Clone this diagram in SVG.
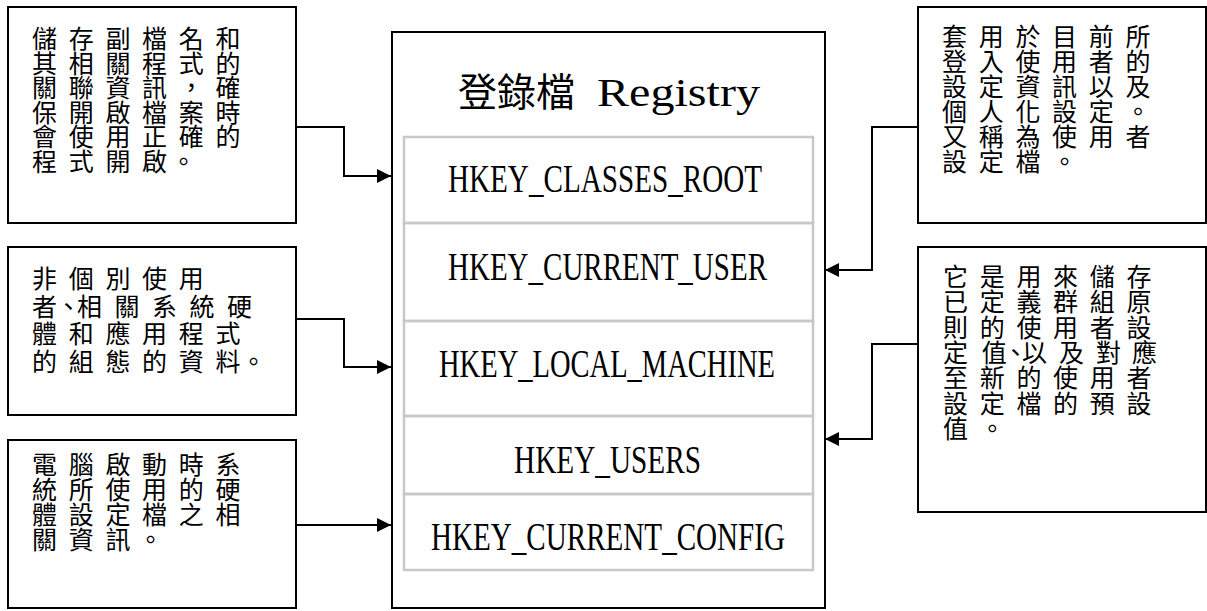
<svg xmlns="http://www.w3.org/2000/svg" width="1207" height="611" viewBox="0 0 1207 611">
  <style>
    .box { fill: #ffffff; stroke: #000000; stroke-width: 2; }
    .row { fill: none; stroke: #c8c8c8; stroke-width: 2.5; }
    .note { font-family: "Noto Sans CJK TC", "Noto Sans CJK SC", sans-serif; font-size: 25px; letter-spacing: 11.7px; fill: #000000; }
    .title { font-family: "Liberation Serif", "Noto Sans CJK TC", serif; font-size: 39px; fill: #000000; }
    .key { font-family: "Liberation Serif", serif; font-size: 39px; fill: #000000; }
    .wire { fill: none; stroke: #000000; stroke-width: 2; marker-end: url(#arrow); }
  </style>
  <defs>
    <marker id="arrow" markerUnits="userSpaceOnUse" markerWidth="15" markerHeight="14" refX="14" refY="7" orient="auto">
      <path d="M0,0 L14,7 L0,14 Z" fill="#000000"/>
    </marker>
  </defs>

  <rect width="1207" height="611" fill="#ffffff"/>

  <!-- Registry container with hive rows -->
  <g id="registry">
    <rect class="box" x="392" y="32" width="433" height="576"/>
    <text class="title" y="106"><tspan x="458" font-family="Noto Sans CJK TC, sans-serif">登錄檔 </tspan><tspan x="597" textLength="163" lengthAdjust="spacingAndGlyphs">Registry</tspan></text>
  </g>
  <g id="hkcr">
    <rect class="row" x="404" y="137" width="409" height="86"/>
    <text class="key" x="605" y="192" text-anchor="middle" textLength="314" lengthAdjust="spacingAndGlyphs">HKEY_CLASSES_ROOT</text>
  </g>
  <g id="hkcu">
    <rect class="row" x="404" y="223" width="409" height="98"/>
    <text class="key" x="607.5" y="280" text-anchor="middle" textLength="319" lengthAdjust="spacingAndGlyphs">HKEY_CURRENT_USER</text>
  </g>
  <g id="hklm">
    <rect class="row" x="404" y="321" width="409" height="95"/>
    <text class="key" x="607" y="377" text-anchor="middle" textLength="336" lengthAdjust="spacingAndGlyphs">HKEY_LOCAL_MACHINE</text>
  </g>
  <g id="hku">
    <rect class="row" x="404" y="416" width="409" height="78"/>
    <text class="key" x="607.5" y="473" text-anchor="middle" textLength="187" lengthAdjust="spacingAndGlyphs">HKEY_USERS</text>
  </g>
  <g id="hkcc">
    <rect class="row" x="404" y="494" width="409" height="76"/>
    <text class="key" x="608" y="550" text-anchor="middle" textLength="354" lengthAdjust="spacingAndGlyphs">HKEY_CURRENT_CONFIG</text>
  </g>

  <!-- Description boxes, left side -->
  <g id="note-classes-root">
    <rect class="box" x="8" y="7" width="288" height="216"/>
    <text class="note"><tspan x="32" y="48">儲存副檔名和</tspan><tspan x="32" y="72.6">其相關程式的</tspan><tspan x="32" y="97.2">關聯資訊，確</tspan><tspan x="32" y="121.8">保開啟檔案時</tspan><tspan x="32" y="146.4">會使用正確的</tspan><tspan x="32 68.7 105.4 142.1 171" y="171">程式開啟。</tspan></text>
  </g>
  <g id="note-local-machine">
    <rect class="box" x="8" y="247" width="288" height="168"/>
    <text class="note"><tspan x="32" y="288">非個別使用</tspan><tspan x="32 56 77 114.5 152 189.5 227" y="315.7">者、相關系統硬</tspan><tspan x="32" y="343.4">體和應用程式</tspan><tspan x="32 68.7 105.4 142.1 178.8 215.5 241" y="371">的組態的資料。</tspan></text>
  </g>
  <g id="note-current-config">
    <rect class="box" x="8" y="440" width="288" height="168"/>
    <text class="note"><tspan x="32" y="474">電腦啟動時系</tspan><tspan x="32" y="499">統所使用的硬</tspan><tspan x="32" y="524">體設定檔之相</tspan><tspan x="32 68.7 105.4 138" y="549">關資訊。</tspan></text>
  </g>

  <!-- Description boxes, right side -->
  <g id="note-current-user">
    <rect class="box" x="918" y="7" width="288" height="216"/>
    <text class="note"><tspan x="942" y="46">套用於目前所</tspan><tspan x="942" y="71">登入使用者的</tspan><tspan x="942" y="96">設定資訊以及</tspan><tspan x="942" y="121">個人化設定。</tspan><tspan x="942" y="146">又稱為使用者</tspan><tspan x="942" y="171">設定檔。</tspan></text>
  </g>
  <g id="note-users">
    <rect class="box" x="918" y="247" width="288" height="265"/>
    <text class="note"><tspan x="943" y="286">它是用來儲存</tspan><tspan x="943" y="311.3">已定義群組原</tspan><tspan x="943" y="336.6">則的使用者設</tspan><tspan x="943 981.7 1003 1022 1059 1096 1132" y="361.9">定值、以及對應</tspan><tspan x="943" y="387.2">至新的使用者</tspan><tspan x="943" y="412.5">設定檔的預設</tspan><tspan x="943" y="437.8">值。</tspan></text>
  </g>

  <!-- Connectors -->
  <g id="connectors">
    <path class="wire" d="M296,127 H344 V176 H391"/>
    <path class="wire" d="M296,319 H344 V367 H391"/>
    <path class="wire" d="M296,525 H391"/>
    <path class="wire" d="M918,127 H872 V270 H825"/>
    <path class="wire" d="M918,344 H872 V439 H825"/>
  </g>
</svg>
